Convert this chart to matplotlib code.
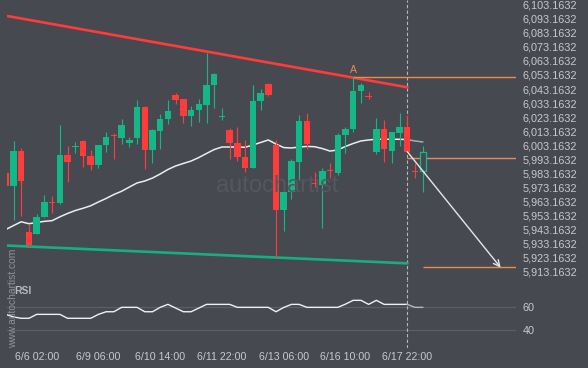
import matplotlib
matplotlib.use("Agg")
import matplotlib.pyplot as plt
from matplotlib.patches import FancyBboxPatch
import numpy as np

# --- data (4h candles, index 0..54) -------------------------------------------
opens = [5983.4, 5974.4, 5999.0, 5941.4, 5940.2, 5952.1, 5962.8, 5962.0, 5996.2, 6002.2,
         6006.2, 5995.7, 5989.1, 6003.3, 6009.9, 6008.5, 6004.9, 6008.5, 6030.4, 6000.0,
         6013.5, 6021.8, 6038.9, 6036.0, 6024.2, 6028.4, 6031.8, 6046.0, 6023.3, 6014.0,
         6004.5, 5995.0, 5987.2, 6034.6, 6046.7, 6003.1, 5957.1, 5970.1, 5991.4, 6020.4,
         5976.2, 5974.9, 5985.2, 5983.6, 6010.4, 6014.7, 6041.7, 6038.0, 5998.6, 6014.7,
         5999.3, 6011.9, 6016.1, 5984.6, 5984.8]
highs = [5984.0, 6006.2, 6001.0, 5947.1, 5954.0, 5967.7, 5967.2, 6017.5, 6002.8, 6005.2,
         6007.1, 5999.5, 6003.3, 6012.4, 6012.0, 6021.8, 6009.2, 6035.3, 6030.8, 6014.5,
         6025.2, 6035.3, 6040.1, 6036.3, 6031.1, 6035.8, 6068.6, 6054.3, 6029.4, 6015.6,
         6015.9, 6006.9, 6046.0, 6042.9, 6047.2, 6006.9, 5970.1, 5993.4, 6024.4, 6026.3,
         5983.9, 5987.2, 5990.7, 6011.6, 6015.9, 6051.4, 6047.2, 6041.2, 6022.3, 6020.9,
         6012.8, 6025.9, 6024.4, 5990.3, 6002.8]
lows = [5974.0, 5949.7, 5953.0, 5931.7, 5939.8, 5952.0, 5954.9, 5961.5, 5977.2, 5997.4,
        5987.7, 5985.3, 5986.7, 5998.6, 5993.4, 6003.8, 6001.7, 6003.8, 5986.0, 5990.7,
        6000.3, 6018.5, 6032.3, 6019.2, 6016.6, 6019.9, 6019.2, 6029.4, 6021.1, 5993.1,
        5992.1, 5983.9, 5986.7, 6028.2, 6038.2, 5923.8, 5942.3, 5964.7, 5978.4, 6000.5,
        5973.6, 5944.0, 5979.6, 5981.8, 5997.4, 6012.8, 6033.4, 6035.8, 5996.9, 5991.0,
        5990.3, 6002.6, 5998.6, 5979.6, 5970.1]
closes = [5974.4, 5999.0, 5977.7, 5931.9, 5952.1, 5962.8, 5962.2, 5996.2, 5991.4, 6002.8,
          5995.7, 5989.1, 6003.3, 6009.0, 6009.5, 6017.5, 6006.9, 6030.4, 6000.0, 6014.0,
          6021.8, 6027.5, 6035.3, 6024.2, 6028.2, 6032.5, 6046.0, 6053.6, 6023.7, 6005.0,
          5995.0, 5987.2, 6034.6, 6040.1, 6038.9, 5957.1, 5969.7, 5991.9, 6020.4, 6003.8,
          5975.8, 5984.8, 5984.8, 6010.4, 6014.7, 6041.7, 6046.0, 6037.5, 6014.7, 6000.3,
          6012.6, 6016.1, 5998.6, 5984.1, 5998.1]

moving_avg = [5943.2, 5946.0, 5948.7, 5947.3, 5948.2, 5949.0, 5949.5, 5952.2, 5954.6, 5956.7,
              5958.3, 5960.1, 5962.8, 5965.3, 5968.1, 5970.4, 5973.4, 5976.3, 5977.7, 5979.8,
              5982.7, 5985.9, 5988.4, 5990.2, 5991.9, 5994.4, 5997.3, 6000.1, 6001.9, 6001.9,
              6001.9, 6001.7, 6003.3, 6005.1, 6006.9, 6004.0, 6001.5, 6001.2, 6001.9, 6002.3,
              6002.1, 6000.8, 5999.0, 5999.8, 6002.3, 6004.4, 6006.2, 6006.9, 6007.4, 6007.4,
              6007.4, 6007.4, 6007.2, 6006.2, 6005.5]

rsi = [53.4, 51.2, 50.1, 50.1, 53.4, 53.4, 53.4, 53.4, 50.1, 50.1,
       50.1, 50.1, 53.4, 55.6, 55.6, 59.3, 59.3, 59.3, 55.6, 55.6,
       59.3, 61.8, 58.7, 55.6, 55.6, 58.7, 61.8, 61.8, 61.8, 61.8,
       59.3, 59.3, 59.3, 59.3, 59.3, 55.6, 59.2, 61.8, 61.8, 59.3,
       59.3, 59.3, 59.3, 59.3, 62.0, 65.2, 65.2, 61.8, 65.2, 61.8,
       61.8, 61.8, 61.8, 59.3, 59.3]

# channel lines: (start index, start price, end index, end price)
resistance = (0, 6095.3, 52, 6044.4)
support = (0, 5931.8, 52, 5919.1)

point_a_idx, point_a_price = 45, 6051.5
entry_idx, entry_level = 52, 5993.9
forecast_start = (52, 5998.6)
forecast_end = (64.1, 5916.1)
target_idx, target_level = 54, 5916.3
signal_idx = 52              # dashed "now" line
live_idx = 54                # still-forming candle (hollow)

price_ticks = [5913.1632 + 10 * k for k in range(20)]
rsi_ticks = [40, 60]
time_idx = [4, 12, 20, 28, 36, 44, 52]
time_labels = ["6/6 02:00", "6/9 06:00", "6/10 14:00", "6/11 22:00",
               "6/13 06:00", "6/16 10:00", "6/17 22:00"]

# --- style ------------------------------------------------------------------
BG = "#464a50"
TXT = "#c8c8c8"
UP = "#14b886"
DOWN = "#ff3b3b"
ORANGE = "#f08a4b"
plt.rcParams["font.family"] = ["Liberation Sans", "DejaVu Sans"]

W, H = 588, 368
fig = plt.figure(figsize=(W / 100, H / 100), dpi=100, facecolor=BG)
left, right = 7, 516
ax = fig.add_axes([left / W, 1 - 280 / H, (right - left) / W, 280 / H], facecolor=BG)
ax_rsi = fig.add_axes([left / W, 1 - 348 / H, (right - left) / W, 68 / H],
                      facecolor=BG, sharex=ax)

n = len(opens)
idx = np.arange(n)

# watermark
fig.text(277 / W, 1 - 186 / H, "autochartist", color="#54585e", fontsize=17,
         ha="center", va="center", zorder=0)
logo_bars = [(185, 185, 190), (191, 177, 190), (197.5, 172, 182), (203.5, 167, 180),
             (210, 170, 175), (215.7, 163, 175), (221.7, 165, 175), (227.7, 165, 172),
             (233.3, 158, 167)]
for bx, top, bot in logo_bars:
    fig.add_artist(FancyBboxPatch(((bx - 1.6) / W, 1 - bot / H), 3.2 / W, (bot - top) / H,
                                  boxstyle="round,pad=0,rounding_size=0.002",
                                  transform=fig.transFigure, color="#55595f",
                                  lw=0, zorder=0))

# channel
ax.plot(resistance[::2], resistance[1::2], color=DOWN, lw=1.9, zorder=2)
ax.plot(support[::2], support[1::2], color="#16b080", lw=1.9, zorder=2)

# moving average
ax.plot(idx[:signal_idx + 1], moving_avg[:signal_idx + 1], color="#ececec", lw=1.1, zorder=3)
ax.plot(idx[signal_idx:], moving_avg[signal_idx:], color="#a8abaf", lw=1.1, zorder=3)

# candles
for i in range(n):
    o, h, l, c = opens[i], highs[i], lows[i], closes[i]
    col = UP if c >= o else DOWN
    ax.vlines(i, l, h, color=col, lw=0.8, zorder=4)
    bottom = min(o, c)
    height = max(abs(c - o), 0.7)
    if i == live_idx:
        ax.bar(i, height, 0.8, bottom=bottom, facecolor=BG, edgecolor=col, lw=0.9, zorder=5)
    else:
        ax.bar(i, height, 0.84, bottom=bottom, color=col, lw=0, zorder=5)

# levels and forecast
x_right = ax.get_xlim()[1]
ax.hlines(point_a_price, point_a_idx, 100, color=ORANGE, lw=1.0, zorder=3)
ax.hlines(entry_level, entry_idx, 100, color=ORANGE, lw=1.0, zorder=3)
ax.hlines(target_level, target_idx, 100, color=ORANGE, lw=1.0, zorder=3)
ax.annotate("A", xy=(point_a_idx, point_a_price), xytext=(0, 1.5),
            textcoords="offset points", ha="center", va="bottom",
            color=ORANGE, fontsize=7.5)
ax.annotate("", xy=forecast_end, xytext=forecast_start,
            arrowprops=dict(arrowstyle="->", color="#e6e6e6", lw=1.0,
                            mutation_scale=11, shrinkA=0, shrinkB=0), zorder=6)

# RSI
ax_rsi.plot(idx[:signal_idx + 1], rsi[:signal_idx + 1], color="#f0f0f0", lw=1.0)
ax_rsi.plot(idx[signal_idx:], rsi[signal_idx:], color="#b4b6b9", lw=1.0)
for t in rsi_ticks:
    ax_rsi.axhline(t, color="#5c6066", lw=0.9, zorder=0)

for a in (ax, ax_rsi):
    a.axvline(signal_idx, color="#b8b8b8", lw=0.8, ls=(0, (3, 2)), zorder=1)
    for s in a.spines.values():
        s.set_visible(False)
    a.yaxis.tick_right()
    a.tick_params(axis="y", length=0, pad=5, labelsize=7.8, labelcolor=TXT)

ax.set_xlim((left - 5.8) / 7.72, (right - 5.8) / 7.72)
ax.set_ylim(5907.26, 6106.5)
ax.set_yticks(price_ticks)
ax.set_yticklabels([f"{v:,.4f}" for v in price_ticks])
ax.tick_params(axis="x", bottom=False, labelbottom=False)

ax_rsi.set_ylim(25.1, 82.3)
ax_rsi.set_yticks(rsi_ticks)
ax_rsi.set_xticks(time_idx)
ax_rsi.set_xticklabels(time_labels)
ax_rsi.tick_params(axis="x", length=0, pad=3, labelsize=7.7, labelcolor=TXT)

fig.text(13 / W, 1 - 298 / H, "www.autochartist.com", rotation=90, ha="center",
         va="center", fontsize=7.4, color="#8e9298")
fig.text(14 / W, 1 - 291 / H, "RSI", fontweight="bold", fontsize=7.5,
         color="#b4b8bc", va="center", ha="left")

fig.savefig("out.png", dpi=100, facecolor=BG)
